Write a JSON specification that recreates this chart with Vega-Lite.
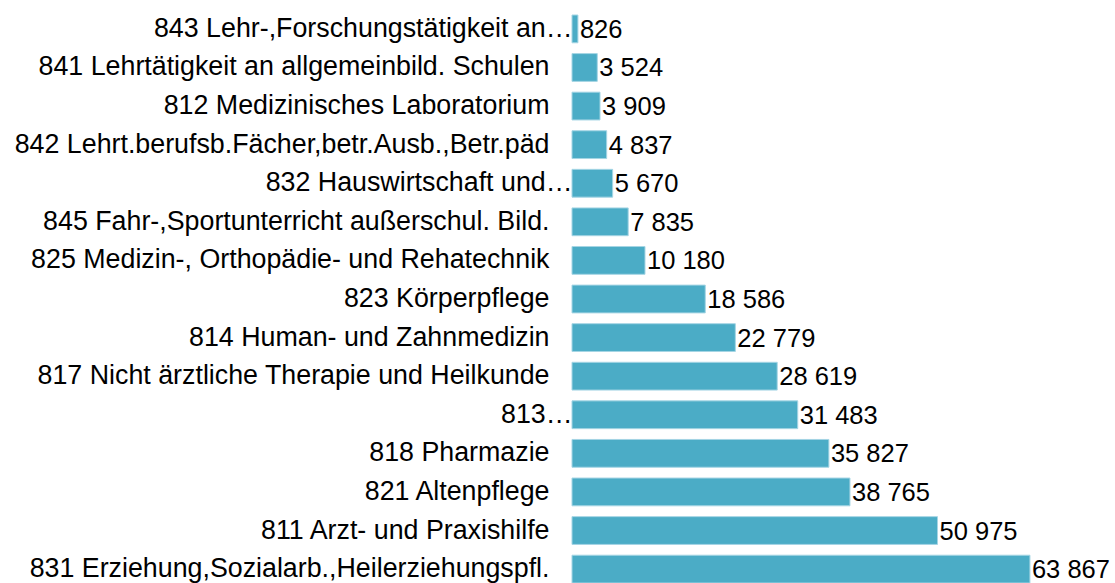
{
  "$schema": "https://vega.github.io/schema/vega-lite/v6.json",
  "autosize": {"type": "none"},
  "width": 543,
  "height": 568,
  "padding": {"left": 572, "top": 15, "right": 0, "bottom": 0},
  "background": "white",
  "config": {
    "view": {"stroke": null},
    "font": "Liberation Sans",
    "locale": {"number": {"decimal": ",", "thousands": " ", "grouping": [3], "currency": ["", " €"]}}
  },
  "data": {
    "values": [
      {"beruf": "843 Lehr-,Forschungstätigkeit an…", "wert": 826},
      {"beruf": "841 Lehrtätigkeit an allgemeinbild. Schulen", "wert": 3524},
      {"beruf": "812 Medizinisches Laboratorium", "wert": 3909},
      {"beruf": "842 Lehrt.berufsb.Fächer,betr.Ausb.,Betr.päd", "wert": 4837},
      {"beruf": "832 Hauswirtschaft und…", "wert": 5670},
      {"beruf": "845 Fahr-,Sportunterricht außerschul. Bild.", "wert": 7835},
      {"beruf": "825 Medizin-, Orthopädie- und Rehatechnik", "wert": 10180},
      {"beruf": "823 Körperpflege", "wert": 18586},
      {"beruf": "814 Human- und Zahnmedizin", "wert": 22779},
      {"beruf": "817 Nicht ärztliche Therapie und Heilkunde", "wert": 28619},
      {"beruf": "813…", "wert": 31483},
      {"beruf": "818 Pharmazie", "wert": 35827},
      {"beruf": "821 Altenpflege", "wert": 38765},
      {"beruf": "811 Arzt- und Praxishilfe", "wert": 50975},
      {"beruf": "831 Erziehung,Sozialarb.,Heilerziehungspfl.", "wert": 63867}
    ]
  },
  "encoding": {
    "y": {
      "field": "beruf",
      "type": "nominal",
      "sort": null,
      "scale": {"paddingInner": 0.28, "paddingOuter": 0},
      "axis": {
        "title": null,
        "domain": false,
        "ticks": false,
        "labelFontSize": 26.8,
        "labelColor": "#000000",
        "labelLimit": 0,
        "labelPadding": {"condition": {"test": "indexof(datum.value, '…') >= 0", "value": 0}, "value": 23}
      }
    },
    "x": {
      "field": "wert",
      "type": "quantitative",
      "scale": {"domain": [0, 75730], "nice": false},
      "axis": null
    }
  },
  "layer": [
    {
      "mark": {"type": "bar", "color": "#4bacc6", "stroke": "#a5d5e4", "strokeWidth": 1}
    },
    {
      "mark": {"type": "text", "align": "left", "baseline": "middle", "dx": 2, "dy": 1, "fontSize": 25.5, "color": "#000000"},
      "encoding": {
        "text": {"field": "wert", "type": "quantitative", "format": ",d"}
      }
    }
  ]
}
